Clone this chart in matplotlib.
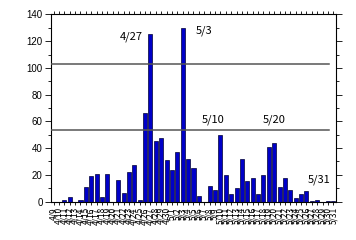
import matplotlib
matplotlib.use("Agg")
import matplotlib.pyplot as plt
from matplotlib.ticker import MultipleLocator

# Dates 4/9 .. 5/31
dates = [f"4/{d}" for d in range(9, 31)] + [f"5/{d}" for d in range(1, 32)]
values = [0, 0, 1, 3.5, 0, 1, 11, 19, 20.5, 3.5,
          20.5, 0, 16, 6.5, 22, 27, 1, 66, 125, 45.5,
          47.5, 31, 24, 37, 130, 32, 25.5, 4, 0, 12,
          9, 49.5, 20, 5.5, 10, 32, 15.5, 18, 5.5, 20,
          41, 43.5, 11, 17.5, 9, 3, 5.5, 8, 0.5, 1.5,
          0, 0.5, 0.5]
ref_lines = [103, 53.5]
annotations = [("4/27", 16.6, 123, "right"), ("5/3", 26.4, 127.5, "left"),
               ("5/10", 27.6, 61, "left"), ("5/20", 38.8, 61, "left"),
               ("5/31", 47.2, 16, "left")]

plt.rcParams['font.family'] = ['Liberation Sans', 'DejaVu Sans']

fig = plt.figure(figsize=(3.56, 2.40), dpi=100)
ax = fig.add_axes([0.143, 0.160, 0.801, 0.780])

x = list(range(len(dates)))
ax.bar(x, values, width=0.75, color='#0000c8', edgecolor='#000033', linewidth=0.5, zorder=2)

for v in ref_lines:
    ax.plot([-0.5, 51.2], [v, v], color='#555555', linewidth=1.1, zorder=3)

for t, xx, yy, ha in annotations:
    ax.text(xx, yy, t, ha=ha, va='center', fontsize=8,
            family=['Noto Sans CJK JP', 'DejaVu Sans'])

ax.set_xlim(-0.5, len(dates) - 0.5)
ax.set_ylim(0, 140)
ax.yaxis.set_major_locator(MultipleLocator(20))
ax.yaxis.set_minor_locator(MultipleLocator(10))
ax.set_xticks(x)
ax.set_xticklabels(dates, rotation=90, fontsize=6, family=['Noto Sans CJK JP', 'DejaVu Sans'])

ax.tick_params(axis='both', which='both', direction='out', top=True, right=True,
               labeltop=False, labelright=False, width=0.6)
ax.tick_params(axis='y', which='major', length=4, labelsize=7, pad=2)
ax.tick_params(axis='y', which='minor', length=2)
ax.tick_params(axis='x', which='major', length=2.5, pad=1.5)
for s in ax.spines.values():
    s.set_linewidth(0.8)

fig.savefig("out.png", dpi=100)
